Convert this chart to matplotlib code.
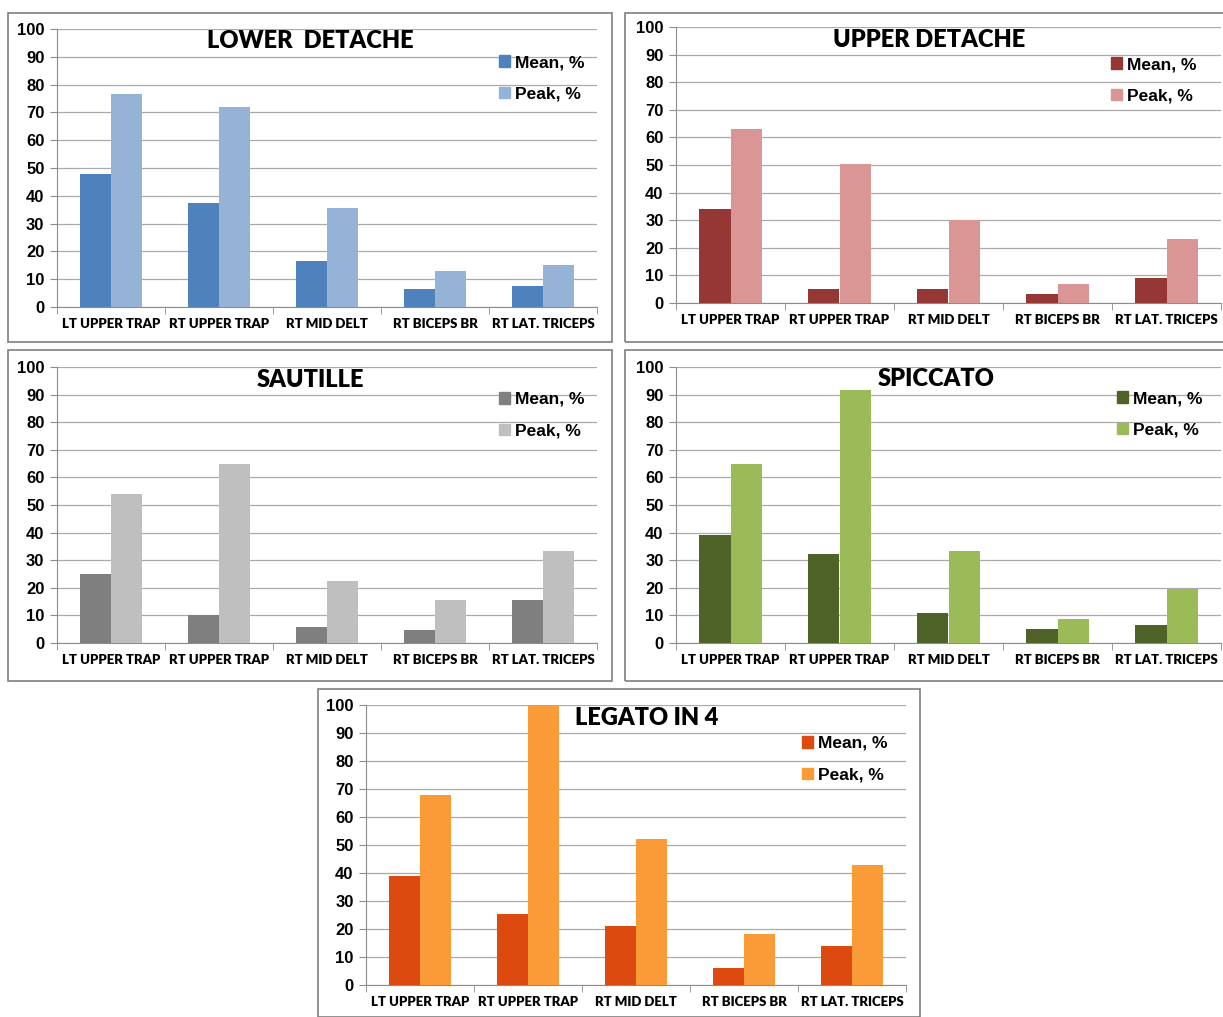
import numpy as np
import matplotlib.pyplot as plt
from matplotlib.patches import Rectangle, Patch

W, H = 1223, 1017

muscles = ['LT UPPER TRAP', 'RT UPPER TRAP', 'RT MID DELT', 'RT BICEPS BR', 'RT LAT. TRICEPS']

lower_mean = [48, 37.5, 16.5, 6.5, 7.5]
lower_peak = [76.5, 72, 35.5, 12.8, 15.2]
upper_mean = [34, 5, 5.2, 3.3, 9.2]
upper_peak = [63, 50.5, 30.2, 6.8, 23.3]
saut_mean = [25, 10, 5.7, 4.6, 15.6]
saut_peak = [54, 64.7, 22.3, 15.6, 33.2]
spic_mean = [39, 32.2, 11, 4.9, 6.5]
spic_peak = [65, 91.5, 33.3, 8.7, 19.6]
leg_mean = [38.8, 25.5, 21.2, 6, 14]
leg_peak = [67.7, 100, 52.2, 18.3, 42.9]

fig = plt.figure(figsize=(W / 100, H / 100), dpi=100)

def fx(px):
    return px / W

def fy(py):
    return 1 - py / H

def panel(box, axbox, title, title_xy, mean, peak, c_mean, c_peak, leg_xy):
    # outer frame
    bx0, by0, bx1, by1 = box
    fig.patches.append(Rectangle((fx(bx0), fy(by1)), fx(bx1 - bx0), (by1 - by0) / H,
                                 transform=fig.transFigure, fill=False,
                                 edgecolor='#7f7f7f', linewidth=1.2))
    x0, ytop, x1, ybot = axbox
    ax = fig.add_axes([fx(x0), fy(ybot), fx(x1 - x0), (ybot - ytop) / H])
    n = len(muscles)
    x = np.arange(n)
    w = 0.285
    ax.bar(x - w / 2, mean, w, color=c_mean, zorder=3, label='Mean, %')
    ax.bar(x + w / 2, peak, w, color=c_peak, zorder=3, label='Peak, %')
    ax.set_xlim(-0.5, n - 0.5)
    ax.set_ylim(0, 100)
    ax.set_yticks(range(0, 101, 10))
    ax.yaxis.grid(True, color='#ababab', linewidth=0.9, zorder=0)
    ax.set_xticks(x)
    ax.set_xticklabels(muscles, fontsize=9.5, fontweight='heavy', family=['Lato', 'DejaVu Sans'])
    ax.set_xticks(np.arange(-0.5, n, 1), minor=True)
    ax.tick_params(axis='x', which='major', length=0, pad=8)
    ax.tick_params(axis='x', which='minor', length=5, color='#8c8c8c')
    ax.tick_params(axis='y', length=5, color='#8c8c8c', pad=4)
    for lab in ax.get_yticklabels():
        lab.set_fontsize(12)
        lab.set_fontweight('bold')
        lab.set_family(['Liberation Sans', 'DejaVu Sans'])
    for s in ['top', 'right']:
        ax.spines[s].set_visible(False)
    for s in ['left', 'bottom']:
        ax.spines[s].set_color('#8c8c8c')
    fig.text(fx(title_xy[0]), fy(title_xy[1]), title, ha='center', va='center',
             fontsize=17, fontweight='heavy', family=['Lato', 'DejaVu Sans'])
    handles = [Patch(color=c_mean), Patch(color=c_peak)]
    fig.legend(handles, ['Mean, %', 'Peak, %'], loc='upper left',
               bbox_to_anchor=(fx(leg_xy[0]), fy(leg_xy[1])), frameon=False,
               prop={'family': ['Liberation Sans', 'DejaVu Sans'], 'weight': 'bold', 'size': 12.5},
               handlelength=0.65, handleheight=0.65, handletextpad=0.3, labelspacing=0.95,
               borderpad=0, borderaxespad=0)
    return ax

panel((8, 13, 612, 342), (57, 29, 597, 307), 'LOWER  DETACHE', (310, 41),
      lower_mean, lower_peak, '#4f81bd', '#95b3d7', (499, 55))
panel((625, 13, 1230, 342), (676, 27, 1221, 303), 'UPPER DETACHE', (929, 40),
      upper_mean, upper_peak, '#953735', '#d99694', (1111, 57))
panel((8, 350, 612, 681), (57, 367, 597, 643), 'SAUTILLE', (310, 380),
      saut_mean, saut_peak, '#7f7f7f', '#bfbfbf', (499, 392))
panel((625, 350, 1230, 681), (676, 367, 1221, 643), 'SPICCATO', (936, 379),
      spic_mean, spic_peak, '#4f6228', '#9bbb59', (1117, 391))
panel((318, 689, 920, 1017), (366, 705, 906, 985), 'LEGATO IN 4', (647, 718),
      leg_mean, leg_peak, '#dc4a10', '#fb9b38', (802, 736))

fig.savefig('out.png', dpi=100, facecolor='white')
